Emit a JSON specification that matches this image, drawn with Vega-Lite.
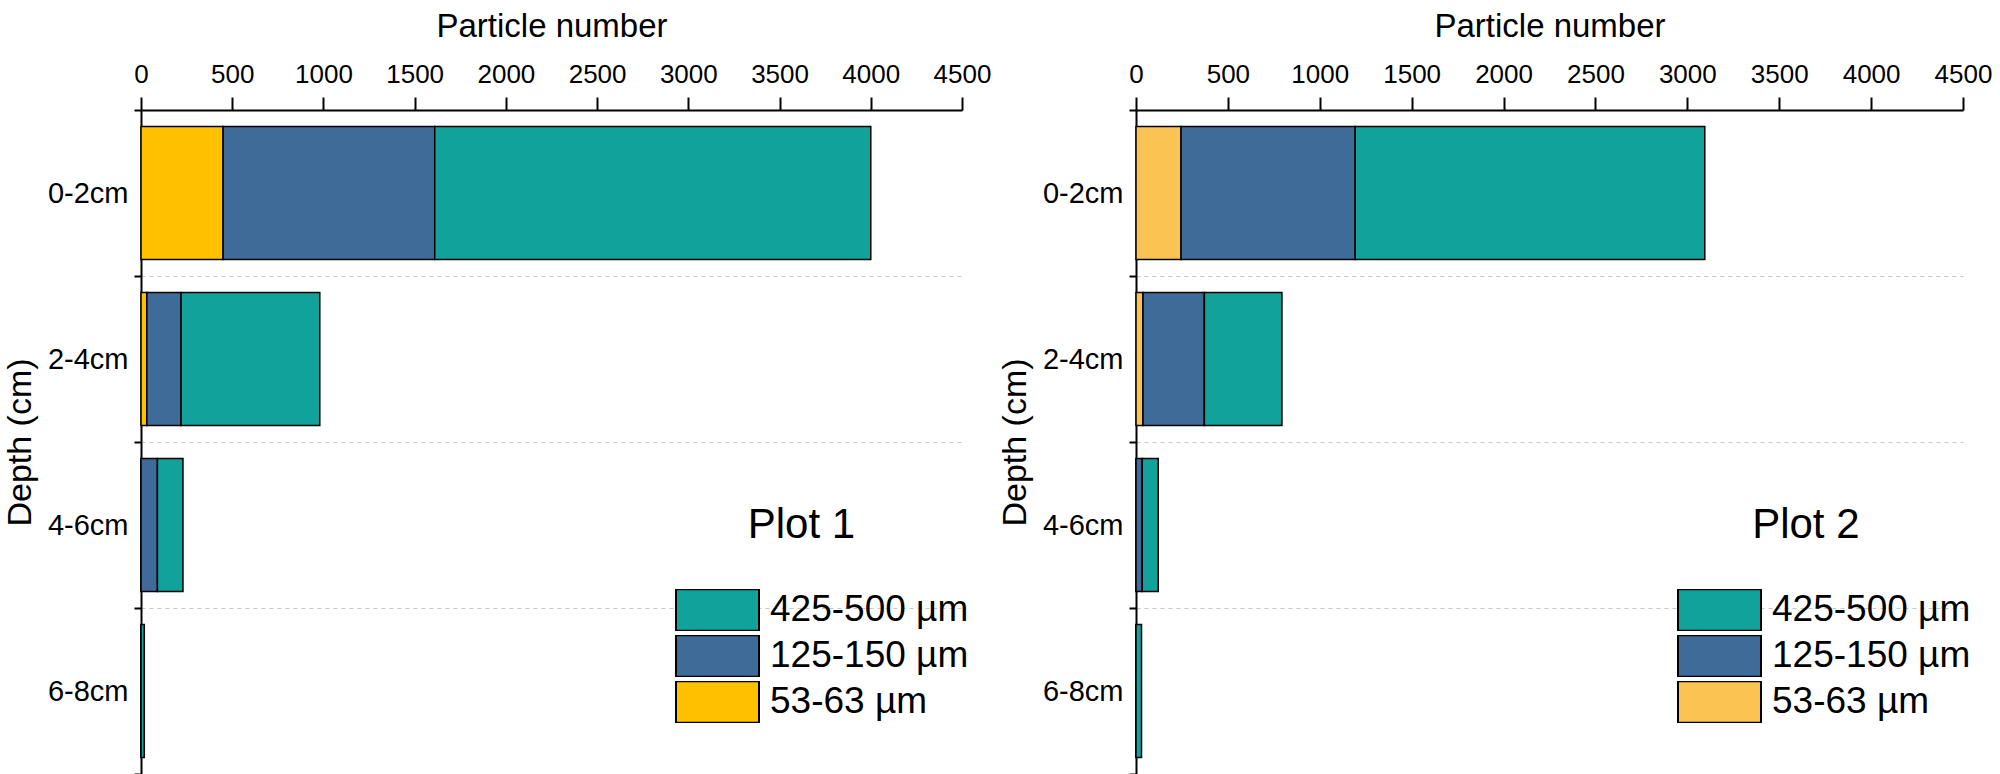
{
  "$schema": "https://vega.github.io/schema/vega-lite/v6.json",
  "background": "white",
  "padding": {"left": 3, "top": 10, "right": 0, "bottom": 0},
  "datasets": {
    "particles": [
      {"plot": "Plot 1", "depth": "0-2cm", "size": "53-63 µm", "lower": 53, "count": 450},
      {"plot": "Plot 1", "depth": "0-2cm", "size": "125-150 µm", "lower": 125, "count": 1160},
      {"plot": "Plot 1", "depth": "0-2cm", "size": "425-500 µm", "lower": 425, "count": 2390},
      {"plot": "Plot 1", "depth": "2-4cm", "size": "53-63 µm", "lower": 53, "count": 32},
      {"plot": "Plot 1", "depth": "2-4cm", "size": "125-150 µm", "lower": 125, "count": 188},
      {"plot": "Plot 1", "depth": "2-4cm", "size": "425-500 µm", "lower": 425, "count": 760},
      {"plot": "Plot 1", "depth": "4-6cm", "size": "53-63 µm", "lower": 53, "count": 0},
      {"plot": "Plot 1", "depth": "4-6cm", "size": "125-150 µm", "lower": 125, "count": 90},
      {"plot": "Plot 1", "depth": "4-6cm", "size": "425-500 µm", "lower": 425, "count": 140},
      {"plot": "Plot 1", "depth": "6-8cm", "size": "53-63 µm", "lower": 53, "count": 0},
      {"plot": "Plot 1", "depth": "6-8cm", "size": "125-150 µm", "lower": 125, "count": 0},
      {"plot": "Plot 1", "depth": "6-8cm", "size": "425-500 µm", "lower": 425, "count": 18},
      {"plot": "Plot 2", "depth": "0-2cm", "size": "53-63 µm", "lower": 53, "count": 245},
      {"plot": "Plot 2", "depth": "0-2cm", "size": "125-150 µm", "lower": 125, "count": 948},
      {"plot": "Plot 2", "depth": "0-2cm", "size": "425-500 µm", "lower": 425, "count": 1902},
      {"plot": "Plot 2", "depth": "2-4cm", "size": "53-63 µm", "lower": 53, "count": 38},
      {"plot": "Plot 2", "depth": "2-4cm", "size": "125-150 µm", "lower": 125, "count": 334},
      {"plot": "Plot 2", "depth": "2-4cm", "size": "425-500 µm", "lower": 425, "count": 422},
      {"plot": "Plot 2", "depth": "4-6cm", "size": "53-63 µm", "lower": 53, "count": 0},
      {"plot": "Plot 2", "depth": "4-6cm", "size": "125-150 µm", "lower": 125, "count": 34},
      {"plot": "Plot 2", "depth": "4-6cm", "size": "425-500 µm", "lower": 425, "count": 87},
      {"plot": "Plot 2", "depth": "6-8cm", "size": "53-63 µm", "lower": 53, "count": 0},
      {"plot": "Plot 2", "depth": "6-8cm", "size": "125-150 µm", "lower": 125, "count": 0},
      {"plot": "Plot 2", "depth": "6-8cm", "size": "425-500 µm", "lower": 425, "count": 30}
    ]
  },
  "config": {
    "font": "Liberation Sans",
    "view": {"stroke": null},
    "axis": {
      "labelFont": "Liberation Sans",
      "titleFont": "Liberation Sans",
      "labelColor": "black",
      "titleColor": "black",
      "titleFontWeight": "normal",
      "domainColor": "black",
      "tickColor": "black",
      "domainWidth": 2,
      "tickWidth": 2
    },
    "legend": {
      "labelFont": "Liberation Sans",
      "labelColor": "black"
    }
  },
  "bounds": "flush",
  "spacing": 174,
  "resolve": {"scale": {"color": "independent"}},
  "hconcat": [
    {
      "width": 821,
      "height": 664,
      "layer": [
        {
          "data": {"name": "particles"},
          "transform": [{"filter": "datum.plot == 'Plot 1'"}],
          "mark": {"type": "bar", "stroke": "black", "strokeWidth": 1.5, "height": {"band": 0.8}},
          "encoding": {
            "y": {
              "field": "depth", "type": "nominal",
              "scale": {"domain": ["0-2cm", "2-4cm", "4-6cm", "6-8cm"], "paddingInner": 0, "paddingOuter": 0},
              "axis": {"orient": "left", "tickBand": "extent", "grid": true, "gridDash": [4, 4], "gridColor": "#c8c8c8", "gridWidth": 1, "tickSize": 7, "labelFontSize": 29, "labelPadding": 6, "titleFontSize": 34, "titlePadding": 10},
              "title": "Depth (cm)"
            },
            "x": {
              "field": "count", "type": "quantitative", "stack": "zero",
              "scale": {"domain": [0, 4500], "nice": false},
              "axis": {"orient": "top", "values": [0, 500, 1000, 1500, 2000, 2500, 3000, 3500, 4000, 4500], "format": "d", "grid": false, "tickSize": 13, "labelFontSize": 26, "labelPadding": 10, "titleFontSize": 33, "titlePadding": 18, "labelFlush": false, "labelOverlap": false},
              "title": "Particle number"
            },
            "color": {
              "field": "size", "type": "nominal",
              "scale": {"domain": ["425-500 µm", "125-150 µm", "53-63 µm"], "range": ["#12A29C", "#3F6B99", "#FFC000"]},
              "legend": {"orient": "none", "legendX": 534, "legendY": 479, "title": null, "symbolType": "M-1,-0.5H1V0.5H-1Z", "symbolSize": 6889, "symbolStrokeColor": "black", "symbolStrokeWidth": 2, "symbolOpacity": 1, "clipHeight": 42, "labelFontSize": 37, "labelOffset": 10, "rowPadding": 4, "padding": 0, "labelLimit": 400}
            },
            "order": {"field": "lower", "type": "quantitative", "sort": "ascending"}
          }
        },
        {
          "data": {"values": [{"label": "Plot 1"}]},
          "mark": {"type": "text", "fontSize": 42, "font": "Liberation Sans", "color": "black", "align": "center", "baseline": "middle"},
          "encoding": {
            "x": {"datum": 3620, "type": "quantitative"},
            "y": {"datum": "4-6cm", "type": "nominal"},
            "text": {"field": "label"}
          }
        }
      ]
    },
    {
      "width": 827,
      "height": 664,
      "layer": [
        {
          "data": {"name": "particles"},
          "transform": [{"filter": "datum.plot == 'Plot 2'"}],
          "mark": {"type": "bar", "stroke": "black", "strokeWidth": 1.5, "height": {"band": 0.8}},
          "encoding": {
            "y": {
              "field": "depth", "type": "nominal",
              "scale": {"domain": ["0-2cm", "2-4cm", "4-6cm", "6-8cm"], "paddingInner": 0, "paddingOuter": 0},
              "axis": {"orient": "left", "tickBand": "extent", "grid": true, "gridDash": [4, 4], "gridColor": "#c8c8c8", "gridWidth": 1, "tickSize": 7, "labelFontSize": 29, "labelPadding": 6, "titleFontSize": 34, "titlePadding": 10},
              "title": "Depth (cm)"
            },
            "x": {
              "field": "count", "type": "quantitative", "stack": "zero",
              "scale": {"domain": [0, 4500], "nice": false},
              "axis": {"orient": "top", "values": [0, 500, 1000, 1500, 2000, 2500, 3000, 3500, 4000, 4500], "format": "d", "grid": false, "tickSize": 13, "labelFontSize": 26, "labelPadding": 10, "titleFontSize": 33, "titlePadding": 18, "labelFlush": false, "labelOverlap": false},
              "title": "Particle number"
            },
            "color": {
              "field": "size", "type": "nominal",
              "scale": {"domain": ["425-500 µm", "125-150 µm", "53-63 µm"], "range": ["#12A29C", "#3F6B99", "#FAC352"]},
              "legend": {"orient": "none", "legendX": 541, "legendY": 479, "title": null, "symbolType": "M-1,-0.5H1V0.5H-1Z", "symbolSize": 6889, "symbolStrokeColor": "black", "symbolStrokeWidth": 2, "symbolOpacity": 1, "clipHeight": 42, "labelFontSize": 37, "labelOffset": 10, "rowPadding": 4, "padding": 0, "labelLimit": 400}
            },
            "order": {"field": "lower", "type": "quantitative", "sort": "ascending"}
          }
        },
        {
          "data": {"values": [{"label": "Plot 2"}]},
          "mark": {"type": "text", "fontSize": 42, "font": "Liberation Sans", "color": "black", "align": "center", "baseline": "middle"},
          "encoding": {
            "x": {"datum": 3645, "type": "quantitative"},
            "y": {"datum": "4-6cm", "type": "nominal"},
            "text": {"field": "label"}
          }
        }
      ]
    }
  ]
}
